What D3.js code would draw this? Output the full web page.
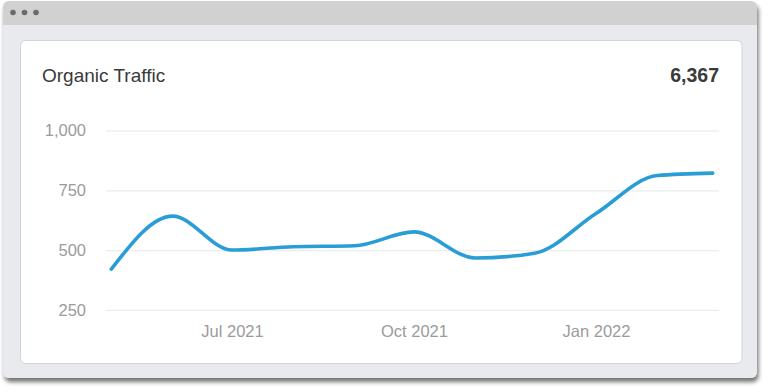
<!DOCTYPE html>
<html>
<head>
<meta charset="utf-8">
<script src="https://cdn.jsdelivr.net/npm/d3@7"></script>
<style>
  html, body { margin: 0; padding: 0; background: #ffffff; }
  svg { display: block; font-family: "Liberation Sans", Arial, Helvetica, sans-serif; }
</style>
</head>
<body>
<svg id="chart" width="768" height="392"></svg>
<script>
// ---- data ----
const title = "Organic Traffic";
const totalLabel = "6,367";
const months = ["2021-05-01", "2021-06-01", "2021-07-01", "2021-08-01", "2021-09-01",
                "2021-10-01", "2021-11-01", "2021-12-01", "2022-01-01", "2022-02-01", "2022-03-01"];
const traffic = [420, 642, 500, 514, 518, 576, 467, 487, 653, 812, 822];
const yTicks = [250, 500, 750, 1000];
const xTicks = ["2021-07-01", "2021-10-01", "2022-01-01"];

// ---- drawing ----
const svg = d3.select("#chart");
const parse = d3.timeParse("%Y-%m-%d");
const data = months.map((m, i) => ({ date: parse(m), value: traffic[i] }));

const defs = svg.append("defs");
const f = defs.append("filter").attr("id", "shadow").attr("x", "-5%").attr("y", "-5%").attr("width", "110%").attr("height", "115%");
f.append("feDropShadow").attr("dx", 1.5).attr("dy", 4).attr("stdDeviation", 2)
  .attr("flood-color", "#000").attr("flood-opacity", 0.55);

// window frame
svg.append("rect").attr("x", 3).attr("y", 1).attr("width", 754).attr("height", 377)
  .attr("rx", 6).attr("fill", "#e9eaee").attr("filter", "url(#shadow)");
// title bar
const barClip = defs.append("clipPath").attr("id", "barclip");
barClip.append("rect").attr("x", 3).attr("y", 1).attr("width", 754).attr("height", 24);
svg.append("rect").attr("x", 3).attr("y", 1).attr("width", 754).attr("height", 40)
  .attr("rx", 6).attr("fill", "#d1d1d1").attr("clip-path", "url(#barclip)");
[13, 24.5, 36].forEach(cx => {
  svg.append("circle").attr("cx", cx).attr("cy", 12.5).attr("r", 2.8).attr("fill", "#6b6b6b");
});

// card
svg.append("rect").attr("x", 20.5).attr("y", 40.5).attr("width", 721.5).attr("height", 323)
  .attr("rx", 5).attr("fill", "#ffffff").attr("stroke", "#cfd3da").attr("stroke-width", 1);

// title & total
svg.append("text").attr("x", 42).attr("y", 82).attr("font-size", 19).attr("fill", "#3a3a3a").text(title);
svg.append("text").attr("x", 719).attr("y", 82).attr("text-anchor", "end").attr("font-size", 19.5)
  .attr("font-weight", "bold").attr("fill", "#3a3a3a").text(totalLabel);

// scales
const x = d3.scaleTime()
  .domain([parse("2021-05-01"), parse("2022-03-01")])
  .range([111.3, 712.7]);
const y = d3.scaleLinear().domain([250, 1000]).range([309.8, 130.6]);

// y grid + labels
const yAxis = d3.axisLeft(y).tickValues(yTicks).tickFormat(d3.format(",")).tickSize(-(719 - 106)).tickPadding(20);
const gy = svg.append("g").attr("transform", "translate(106,0)").call(yAxis);
gy.select(".domain").remove();
gy.selectAll(".tick line").attr("stroke", "#ececec").attr("stroke-width", 1.2);
gy.selectAll(".tick text").attr("font-size", 16.5).attr("fill", "#9b9b9b")
  .attr("font-family", "Liberation Sans, Arial, sans-serif");

// x labels
const xAxis = d3.axisBottom(x).tickValues(xTicks.map(parse)).tickFormat(d3.timeFormat("%b %Y")).tickSize(0).tickPadding(0);
const gx = svg.append("g").attr("transform", "translate(0,325)").call(xAxis);
gx.select(".domain").remove();
gx.selectAll(".tick text").attr("font-size", 16.5).attr("fill", "#9b9b9b")
  .attr("font-family", "Liberation Sans, Arial, sans-serif");

// line
const line = d3.line().x(d => x(d.date)).y(d => y(d.value)).curve(d3.curveMonotoneX);
svg.append("path").datum(data).attr("d", line)
  .attr("fill", "none").attr("stroke", "#2a9dd6").attr("stroke-width", 3.6)
  .attr("stroke-linecap", "round").attr("stroke-linejoin", "round");
</script>
</body>
</html>
